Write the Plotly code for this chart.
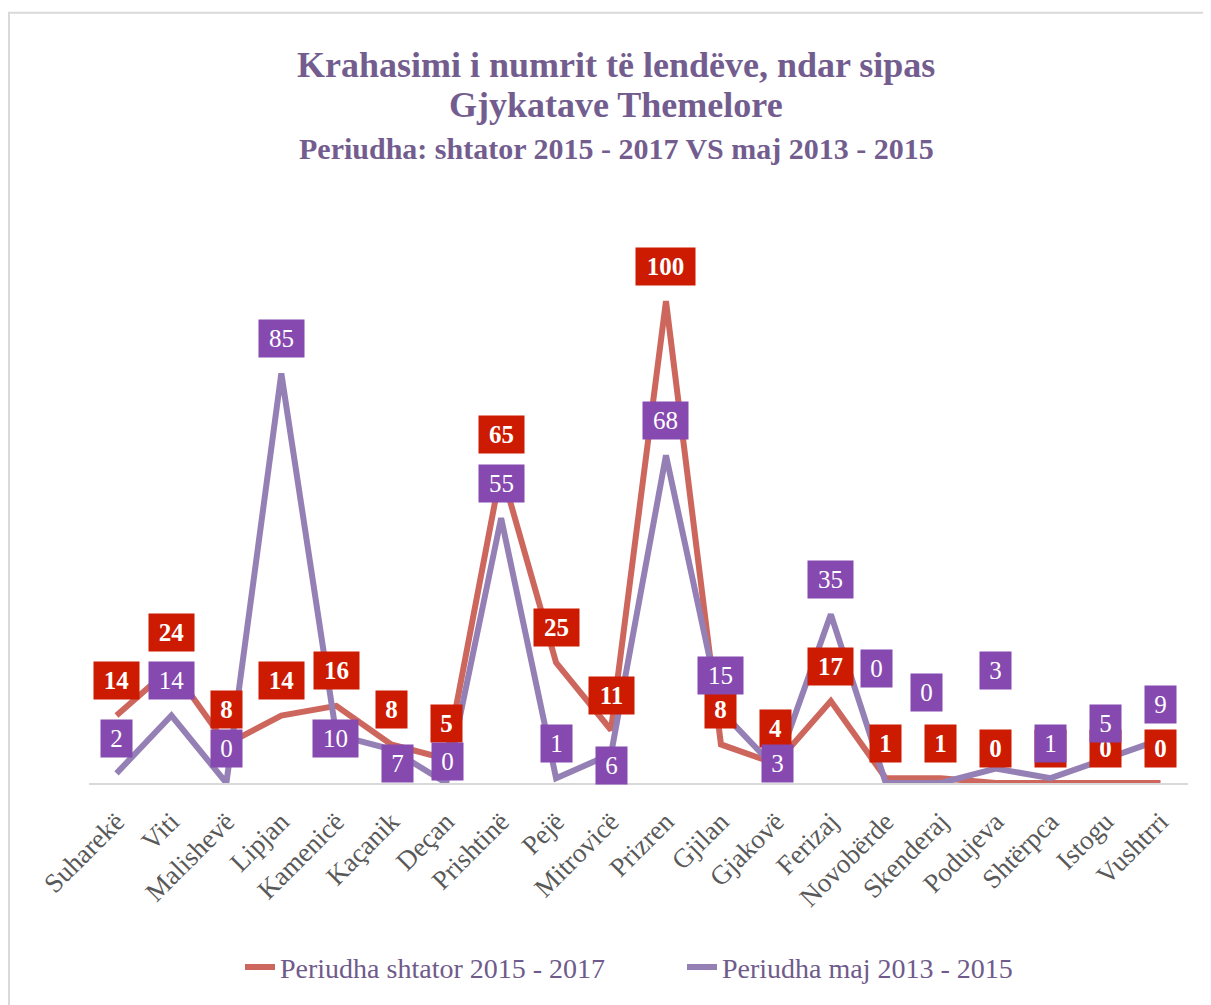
import plotly.graph_objects as go

# ---------------- data ----------------
categories = ["Suharekë", "Viti", "Malishevë", "Lipjan", "Kamenicë", "Kaçanik", "Deçan",
              "Prishtinë", "Pejë", "Mitrovicë", "Prizren", "Gjilan", "Gjakovë", "Ferizaj",
              "Novobërde", "Skenderaj", "Podujeva", "Shtërpca", "Istogu", "Vushtrri"]
series_2015_2017 = [14, 24, 8, 14, 16, 8, 5, 65, 25, 11, 100, 8, 4, 17, 1, 1, 0, 0, 0, 0]
series_2013_2015 = [2, 14, 0, 85, 10, 7, 0, 55, 1, 6, 68, 15, 3, 35, 0, 0, 3, 1, 5, 9]
series_names = ["Periudha shtator 2015 - 2017", "Periudha maj 2013 - 2015"]
title_lines = ["Krahasimi i numrit të lendëve, ndar sipas",
               "Gjykatave Themelore",
               "Periudha: shtator 2015 - 2017 VS maj 2013 - 2015"]

# ---------------- style ----------------
OFF = 8  # browser body margin
W, H = 1211 - OFF, 1005 - OFF
PLOT_L, PLOT_R, PLOT_T, PLOT_B = 89 - OFF, 1188 - OFF, 200 - OFF, 785 - OFF
ML, MR, MT, MB = PLOT_L, W - PLOT_R, PLOT_T, H - PLOT_B
YMAX = 121
RED_LINE, PURPLE_LINE = "#CD675E", "#9580B6"
RED_BOX, PURPLE_BOX = "#CC1B00", "#8549B0"
TITLE_COLOR = "#735D8F"
SERIF = "Liberation Serif"

# default label offset (px above point) and manual offsets for some purple labels
DEFAULT_SHIFT = (0, 35)
purple_label_shift = {"Kamenicë": (-1, -4), "Kaçanik": (6, -14), "Deçan": (1, 22),
                      "Mitrovicë": (0, -11), "Gjakovë": (2, 5), "Novobërde": (-9, 115),
                      "Skenderaj": (-14, 91), "Podujeva": (0, 98)}

plot_h = PLOT_B - PLOT_T
plot_w = PLOT_R - PLOT_L

def px_to_paper_y(py):
    return (PLOT_B - (py - OFF)) / plot_h

def px_to_paper_x(px):
    return ((px - OFF) - PLOT_L) / plot_w

fig = go.Figure()
fig.add_trace(go.Scatter(x=categories, y=series_2015_2017, mode="lines", name=series_names[0],
                         line=dict(color=RED_LINE, width=6), hoverinfo="skip"))
fig.add_trace(go.Scatter(x=categories, y=series_2013_2015, mode="lines", name=series_names[1],
                         line=dict(color=PURPLE_LINE, width=6), hoverinfo="skip"))

def box_width(text):
    return 17 + 14 * len(text)

annotations = []
for cat, v in zip(categories, series_2015_2017):
    t = str(v)
    annotations.append(dict(x=cat, y=v, xref="x", yref="y", text=t, showarrow=False,
                            xshift=DEFAULT_SHIFT[0], yshift=DEFAULT_SHIFT[1],
                            bgcolor=RED_BOX, borderpad=0, width=box_width(t), height=37,
                            xanchor="center", yanchor="middle",
                            font=dict(family=SERIF, size=25, color="white", weight="bold")))
for cat, v in zip(categories, series_2013_2015):
    t = str(v)
    dx, dy = purple_label_shift.get(cat, DEFAULT_SHIFT)
    annotations.append(dict(x=cat, y=v, xref="x", yref="y", text=t, showarrow=False,
                            xshift=dx, yshift=dy,
                            bgcolor=PURPLE_BOX, borderpad=0, width=box_width(t), height=37,
                            xanchor="center", yanchor="middle",
                            font=dict(family=SERIF, size=25, color="white")))

title_x = px_to_paper_x(616)
for txt, py, size in zip(title_lines, [65, 105, 148], [36, 36, 30]):
    annotations.append(dict(x=title_x, y=px_to_paper_y(py), xref="paper", yref="paper",
                            text=txt, showarrow=False, xanchor="center", yanchor="middle",
                            font=dict(family=SERIF, size=size, color=TITLE_COLOR, weight="bold")))

fig.update_layout(
    width=W, height=H,
    margin=dict(l=ML, r=MR, t=MT, b=MB),
    paper_bgcolor="white", plot_bgcolor="white",
    showlegend=True,
    legend=dict(orientation="h", x=px_to_paper_x(240), y=px_to_paper_y(970),
                xanchor="left", yanchor="middle", entrywidth=397, entrywidthmode="pixels",
                font=dict(family=SERIF, size=28, color="#6F5B8B")),
    annotations=annotations,
    shapes=[dict(type="rect", xref="paper", yref="paper",
                 x0=px_to_paper_x(9), x1=px_to_paper_x(1230),
                 y0=px_to_paper_y(1030), y1=px_to_paper_y(12),
                 line=dict(color="#D9D9D9", width=2), fillcolor="rgba(0,0,0,0)", layer="below")],
    xaxis=dict(type="category", range=[-0.5, len(categories) - 0.5], showline=True,
               linecolor="#D9D9D9", linewidth=2, showgrid=False, zeroline=False, ticks="",
               tickangle=-45, ticklabelstandoff=10,
               tickfont=dict(family=SERIF, size=27, color="#595959"),
               fixedrange=True),
    yaxis=dict(range=[0, YMAX], visible=False, showgrid=False, zeroline=False, fixedrange=True),
)

fig.write_html("out.html")
